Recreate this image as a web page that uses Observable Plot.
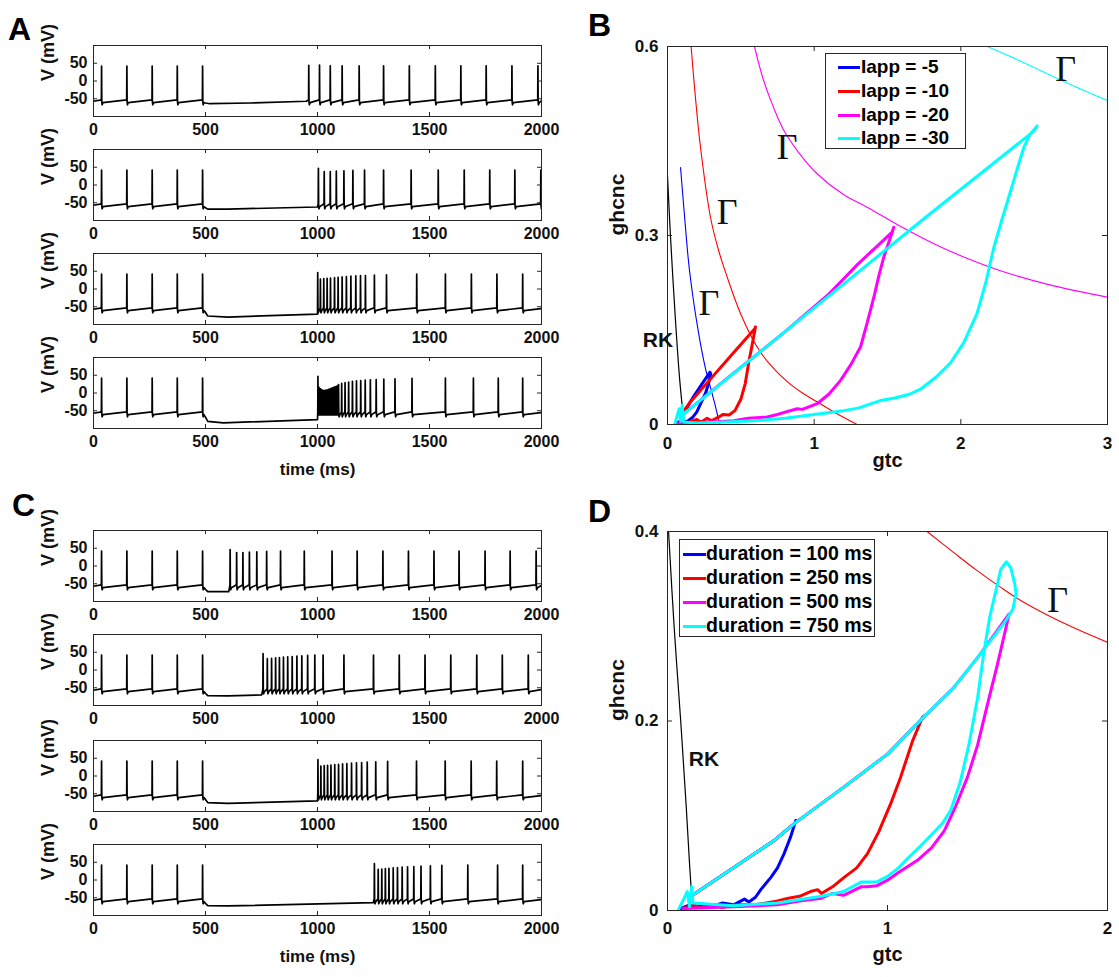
<!DOCTYPE html>
<html><head><meta charset="utf-8">
<script src="https://cdn.jsdelivr.net/npm/d3@7"></script>
<script src="https://cdn.jsdelivr.net/npm/@observablehq/plot@0.6"></script>
<style>
body{margin:0;background:#fff;}
#fig{position:relative;width:1119px;height:977px;font-family:'Liberation Sans',Arial,Helvetica,sans-serif;overflow:hidden;}
.letter{position:absolute;font-weight:bold;font-size:32px;line-height:1;color:#000;}
.legend{position:absolute;border:1px solid #262626;background:#fff;box-sizing:border-box;}
.row{position:absolute;font-weight:bold;line-height:1;color:#000;white-space:nowrap;}
.sw{position:absolute;height:3px;}
</style>
</head><body><div id="fig"></div>
<script>
// ---------------- DATA: voltage traces (time in ms, V in mV) ----------------
const timeTicks = [0, 500, 1000, 1500, 2000];
const vTicks = [-50, 0, 50];

const spikesA1 = [36,149,262,374,487,961,1009,1057,1110,1186,1295,1410,1526,1640,1753,1868,1984];
const peaksA1  = [42,42,42,42,42,44,45,43,43,43,43,43,43,43,43,43,43];
const inhibA1  = [[500,-62],[520,-64],[700,-62],[950,-57]];

const spikesA2 = [36,149,262,374,487,1004,1030,1057,1084,1118,1158,1210,1295,1418,1539,1655,1769,1881,1997];
const peaksA2  = [42,42,42,42,42,47,38,38,39,40,41,42,42,42,42,42,42,42,42];
const inhibA2  = [[500,-64],[510,-68],[600,-68],[1000,-62]];

const spikesA3 = [36,149,262,374,487,1001,1013,1028,1043,1058,1076,1092,1110,1129,1149,1171,1192,1214,1254,1308,1443,1571,1687,1801,1916];
const peaksA3  = [42,42,42,42,42,46,28,29,30,31,32,33,34,35,36,37,38,38,39,40,42,42,42,42,42];
const inhibA3  = [[500,-66],[510,-76],[600,-79],[1000,-71]];

const spikesA4 = [36,149,262,374,487,1002,1006,1010,1014,1018,1022,1026,1030,1034,1038,1042,1046,1050,1054,1058,1062,1066,1070,1074,1078,1082,1086,1090,1094,1108,1123,1139,1156,1174,1193,1213,1236,1262,1296,1346,1422,1571,1696,1807,1916];
const peaksA4  = [42,42,42,42,42,47,16,13,11,9,8,7,7,7,8,8,9,10,11,12,13,14,15,16,17,18,19,20,24,27,29,31,33,34,35,36,37,38,39,40,41,42,42,42,42];
const inhibA4  = [[500,-68],[510,-80],[580,-84],[1000,-75]];

const spikesC1 = [36,149,262,374,487,610,639,667,696,729,773,835,941,1065,1177,1292,1406,1520,1632,1748,1860,1976];
const peaksC1  = [42,42,42,42,42,46,38,38,39,40,41,42,42,42,42,42,42,42,42,42,42,42];
const inhibC1  = [[500,-66],[510,-72],[604,-72]];

const spikesC2 = [36,149,262,374,487,757,776,795,813,830,848,867,887,908,930,956,988,1025,1118,1250,1365,1480,1595,1711,1825,1941];
const peaksC2  = [42,42,42,42,42,46,32,33,34,35,36,37,38,39,40,41,42,42,42,42,42,42,42,42,42,42];
const inhibC2  = [[500,-66],[510,-72],[600,-73],[751,-70]];

const spikesC3 = [36,149,262,374,487,1002,1015,1030,1045,1060,1077,1094,1112,1131,1152,1174,1197,1222,1260,1313,1442,1570,1686,1800,1916];
const peaksC3  = [42,42,42,42,42,46,28,29,30,31,32,33,34,35,36,37,38,39,40,41,42,42,42,42,42];
const inhibC3  = [[500,-66],[510,-75],[600,-77],[1000,-70]];

const spikesC4 = [36,149,262,374,487,1254,1271,1287,1303,1319,1338,1357,1378,1402,1430,1462,1504,1555,1671,1804,1916];
const peaksC4  = [42,42,42,42,42,46,30,31,32,33,34,35,36,37,38,39,40,41,42,42,42];
const inhibC4  = [[500,-66],[510,-72],[600,-73],[1249,-64]];

// ---------------- DATA: phase plane B (gtc, ghcnc) ----------------
const bXTicks = [0, 1, 2, 3];
const bYTicks = [0, 0.3, 0.6];
const bRK = [[0,0.395],[0.02,0.3],[0.0545,0.165],[0.08,0.08],[0.1,0.03],[0.112,0.005]];
const bGammaBlue = [[0.089,0.408],[0.12,0.32],[0.145,0.255],[0.175,0.2],[0.2,0.162],[0.225,0.128],[0.26,0.088],[0.293,0.059],[0.32,0.035],[0.339,0.017],[0.357,0]];
const bGammaRed = [[0.161,0.6],[0.19,0.52],[0.225,0.44],[0.293,0.329],[0.35,0.275],[0.407,0.234],[0.5,0.175],[0.611,0.123],[0.7,0.095],[0.816,0.068],[0.92,0.05],[1.02,0.036],[1.15,0.018],[1.293,0]];
const bGammaMagenta = [[0.593,0.6],[0.65,0.55],[0.72,0.505],[0.793,0.467],[0.9,0.43],[1.02,0.398],[1.2,0.365],[1.361,0.345],[1.6,0.313],[1.816,0.287],[2.05,0.263],[2.27,0.244],[2.6,0.222],[3.0,0.202]];
const bGammaCyan = [[2.18,0.6],[2.3,0.588],[2.497,0.567],[2.725,0.542],[3.0,0.514]];
const bGammaLabels = [[0.816,0.44],[0.407,0.337],[0.282,0.192],[2.714,0.563]];
const bRKLabel = [[-0.065,0.133]];
const bTrajBlue = [[0.07,0.003],[0.1,0.007],[0.13,0.004],[0.17,0.011],[0.2,0.02],[0.23,0.035],[0.26,0.05],[0.28,0.065],[0.295,0.08],[0.29,0.083],[0.24,0.066],[0.18,0.045],[0.12,0.022],[0.1,0.016]];
const bTrajRed = [[0.07,0.002],[0.15,0.004],[0.2,0.008],[0.23,0.004],[0.27,0.01],[0.3,0.006],[0.35,0.012],[0.38,0.016],[0.42,0.015],[0.46,0.022],[0.5,0.04],[0.53,0.065],[0.555,0.1],[0.58,0.13],[0.6,0.155],[0.595,0.152],[0.45,0.114],[0.3,0.074],[0.15,0.034],[0.1,0.018]];
const bTrajMagenta = [[0.07,0.002],[0.2,0.003],[0.3,0.004],[0.452,0.006],[0.55,0.01],[0.68,0.012],[0.75,0.016],[0.884,0.025],[0.92,0.024],[1.02,0.033],[1.1,0.048],[1.18,0.07],[1.25,0.095],[1.316,0.123],[1.36,0.16],[1.407,0.202],[1.44,0.235],[1.475,0.266],[1.51,0.29],[1.543,0.313],[1.53,0.305],[1.3,0.255],[1.1,0.207],[0.8,0.147],[0.4,0.072],[0.1,0.015]];
const bTrajCyan = [[0.05,0.001],[0.08,0.025],[0.09,0.005],[0.1,0.03],[0.11,0.004],[0.2,0.002],[0.4,0.004],[0.6,0.006],[0.8,0.01],[1.0,0.016],[1.2,0.022],[1.3,0.026],[1.4,0.034],[1.452,0.038],[1.55,0.042],[1.65,0.048],[1.725,0.056],[1.83,0.075],[1.93,0.098],[2.02,0.13],[2.11,0.176],[2.17,0.225],[2.225,0.281],[2.28,0.325],[2.34,0.371],[2.39,0.41],[2.43,0.44],[2.47,0.46],[2.51,0.471],[2.52,0.474],[2.5,0.466],[1.75,0.327],[0.9,0.166],[0.1,0.015]];

// ---------------- DATA: phase plane D ----------------
const dXTicks = [0, 1, 2];
const dYTicks = [0, 0.2, 0.4];
const dRK = [[0.005,0.399],[0.03,0.3],[0.06,0.2],[0.085,0.11],[0.1,0.05],[0.109,0.018]];
const dGammaRed = [[1.18,0.4],[1.3,0.378],[1.4,0.36],[1.515,0.341],[1.6,0.328],[1.742,0.31],[1.87,0.296],[2.0,0.283]];
const dGammaLabels = [[1.773,0.327]];
const dRKLabel = [[0.166,0.16]];
const dTrajBlue = [[0.06,0.002],[0.1,0.006],[0.13,0.003],[0.16,0.007],[0.2,0.004],[0.25,0.008],[0.3,0.006],[0.35,0.012],[0.37,0.009],[0.4,0.014],[0.424,0.022],[0.47,0.035],[0.5,0.045],[0.53,0.06],[0.56,0.078],[0.583,0.095],[0.583,0.093],[0.485,0.074],[0.1,0.014]];
const dTrajRed = [[0.07,0.002],[0.12,0.006],[0.15,0.003],[0.2,0.006],[0.25,0.003],[0.3,0.006],[0.4,0.006],[0.5,0.01],[0.55,0.013],[0.6,0.015],[0.65,0.02],[0.682,0.022],[0.7,0.018],[0.75,0.025],[0.803,0.035],[0.86,0.045],[0.909,0.06],[0.96,0.083],[1.015,0.113],[1.06,0.141],[1.114,0.179],[1.159,0.204],[1.17,0.206],[1.16,0.203],[1.0,0.165],[0.8,0.13],[0.583,0.093],[0.485,0.074],[0.1,0.014]];
const dTrajMagenta = [[0.07,0.002],[0.3,0.004],[0.5,0.006],[0.6,0.01],[0.7,0.013],[0.75,0.018],[0.8,0.016],[0.88,0.025],[0.909,0.025],[0.95,0.026],[1.0,0.032],[1.05,0.04],[1.136,0.053],[1.2,0.066],[1.258,0.084],[1.31,0.11],[1.364,0.141],[1.41,0.175],[1.455,0.218],[1.5,0.26],[1.53,0.29],[1.553,0.313],[1.42,0.27],[1.3,0.235],[1.16,0.203],[1.0,0.165],[0.8,0.13],[0.583,0.093],[0.485,0.074],[0.1,0.014]];
const dTrajCyan = [[0.05,0.001],[0.09,0.02],[0.1,0.004],[0.11,0.025],[0.115,0.008],[0.3,0.005],[0.5,0.008],[0.7,0.015],[0.8,0.02],[0.88,0.03],[0.95,0.03],[1.0,0.036],[1.05,0.045],[1.1,0.057],[1.15,0.068],[1.2,0.08],[1.25,0.092],[1.288,0.106],[1.33,0.135],[1.37,0.175],[1.41,0.225],[1.439,0.274],[1.465,0.31],[1.49,0.335],[1.515,0.36],[1.54,0.368],[1.56,0.362],[1.578,0.345],[1.584,0.335],[1.57,0.318],[1.538,0.306],[1.42,0.27],[1.3,0.235],[1.16,0.203],[1.0,0.165],[0.8,0.13],[0.583,0.093],[0.485,0.074],[0.1,0.014]];

// ---------------- DATA: legends ----------------
const legendB = ["Iapp = -5", "Iapp = -10", "Iapp = -20", "Iapp = -30"];
const legendD = ["duration = 100 ms", "duration = 250 ms", "duration = 500 ms", "duration = 750 ms"];
const seriesColors = ["#0000ff", "#ff0000", "#ff00ff", "#00ffff"];

// ---------------- rendering ----------------
const FONT = "'Liberation Sans', Arial, Helvetica, sans-serif";
const AX = "#262626";
const fig = document.getElementById("fig");
function place(el, left, top) {
  el.style.position = "absolute";
  el.style.left = left + "px";
  el.style.top = top + "px";
  el.style.overflow = "visible";
  fig.appendChild(el);
}

// membrane potential path built from spike times/peaks and inhibition key points
function buildWave(spikes, peaks, inhib) {
  const ev = [{t: 0, v: -57}];
  spikes.forEach((t, i) => {
    const next = i + 1 < spikes.length ? spikes[i + 1] - t : 100;
    const prev = i > 0 ? t - spikes[i - 1] : 100;
    const k = Math.min(1, next / 10), kp = Math.min(1, prev / 10);
    ev.push({t: t - 0.8 * kp, v: -53});
    ev.push({t: t, v: peaks[i]});
    ev.push({t: t + 1 * k, v: -58});
    ev.push({t: t + 2.5 * k, v: k < 1 ? -58 - 9 * k : -67});
    ev.push({t: t + 6 * k, v: -61});
  });
  inhib.forEach(([t, v]) => ev.push({t, v}));
  const last = spikes[spikes.length - 1];
  if (last + 8 < 2000) ev.push({t: 2000, v: -55});
  ev.sort((a, b) => a.t - b.t);
  return ev.filter(d => d.t <= 2000);
}

function makeTrace(spikes, peaks, inhib, frameTop, withTime) {
  const W = 448, H = 71, mt = 5, mb = withTime ? 62 : 25;
  const pts = buildWave(spikes, peaks, inhib);
  const svg = Plot.plot({
    width: 93 + W + 19, height: mt + H + mb,
    marginLeft: 93, marginRight: 19, marginTop: mt, marginBottom: mb,
    x: {domain: [0, 2000]}, y: {domain: [-100, 100]},
    style: {fontFamily: FONT, fontSize: "16px", fontWeight: "bold", color: AX, background: "none", overflow: "visible"},
    marks: [
      Plot.line(pts, {x: "t", y: "v", stroke: "black", strokeWidth: 1.7, clip: true}),
      Plot.frame({stroke: AX, strokeWidth: 1}),
      Plot.tickX(timeTicks, {x: d => d, insetTop: H - 4, stroke: AX}),
      Plot.tickX(timeTicks, {x: d => d, insetBottom: H - 4, stroke: AX}),
      Plot.tickY(vTicks, {y: d => d, insetRight: W - 4, stroke: AX}),
      Plot.tickY(vTicks, {y: d => d, insetLeft: W - 4, stroke: AX}),
      Plot.axisX(timeTicks, {tickSize: 0, tickPadding: 7, label: null, tickFormat: d => String(d), fill: "#111"}),
      Plot.axisY(vTicks, {tickSize: 0, tickPadding: 6, label: null, tickFormat: d => String(d), fill: "#111"}),
      Plot.text(["V (mV)"], {text: d => d, frameAnchor: "left", dx: -45, rotate: -90, fontSize: 18, fontWeight: "bold", fill: "#111"}),
      withTime ? Plot.text(["time (ms)"], {text: d => d, frameAnchor: "bottom", dy: 46, fontSize: 17, fontWeight: "bold", fill: "#111"}) : null
    ]
  });
  place(svg, 0, frameTop - mt);
}

makeTrace(spikesA1, peaksA1, inhibA1, 45, false);
makeTrace(spikesA2, peaksA2, inhibA2, 149, false);
makeTrace(spikesA3, peaksA3, inhibA3, 253, false);
makeTrace(spikesA4, peaksA4, inhibA4, 357, true);
makeTrace(spikesC1, peaksC1, inhibC1, 530, false);
makeTrace(spikesC2, peaksC2, inhibC2, 634, false);
makeTrace(spikesC3, peaksC3, inhibC3, 740, false);
makeTrace(spikesC4, peaksC4, inhibC4, 844, true);

function makePhase(o) {
  const W = 440, H = o.H, mt = 36, mb = 60;
  const px = d => d[0], py = d => d[1];
  const marks = [];
  o.gammas.forEach(([data, color]) => marks.push(Plot.line(data, {x: px, y: py, stroke: color, strokeWidth: 1.1, curve: "catmull-rom", clip: true})));
  marks.push(Plot.line(o.rk, {x: px, y: py, stroke: "black", strokeWidth: 1.2, curve: "catmull-rom", clip: true}));
  o.trajs.forEach(([data, color]) => marks.push(Plot.line(data, {x: px, y: py, stroke: color, strokeWidth: 3, strokeLinejoin: "round", clip: true})));
  marks.push(
    Plot.frame({stroke: AX, strokeWidth: 1}),
    Plot.tickX(o.xTicks, {x: d => d, insetTop: H - 5, stroke: AX}),
    Plot.tickX(o.xTicks, {x: d => d, insetBottom: H - 5, stroke: AX}),
    Plot.tickY(o.yTicks, {y: d => d, insetRight: W - 5, stroke: AX}),
    Plot.tickY(o.yTicks, {y: d => d, insetLeft: W - 5, stroke: AX}),
    Plot.axisX(o.xTicks, {tickSize: 0, tickPadding: o.xPad, label: null, tickFormat: d => String(d), fill: "#111"}),
    Plot.axisY(o.yTicks, {tickSize: 0, tickPadding: 9, label: null, tickFormat: d => String(d), fill: "#111"}),
    Plot.text(o.gammaLabels, {x: px, y: py, text: () => "Γ", fontFamily: "'Liberation Serif', 'Times New Roman', serif", fontSize: 36, fontWeight: "normal", fill: "#111"}),
    Plot.text(o.rkLabel, {x: px, y: py, text: () => "RK", fontSize: 21, fontWeight: "bold", fill: "#111"}),
    Plot.text(["gtc"], {text: d => d, frameAnchor: "bottom", dy: o.gtcDy, fontSize: 20, fontWeight: "bold", fill: "#111"}),
    Plot.text(["ghcnc"], {text: d => d, frameAnchor: "left", dx: -50, rotate: -90, fontSize: 21, fontWeight: "bold", fill: "#111"})
  );
  const svg = Plot.plot({
    width: 87 + W + 12, height: mt + H + mb,
    marginLeft: 87, marginRight: 12, marginTop: mt, marginBottom: mb,
    x: {domain: o.xDomain}, y: {domain: o.yDomain},
    style: {fontFamily: FONT, fontSize: "17px", fontWeight: "bold", color: AX, background: "none", overflow: "visible"},
    marks
  });
  place(svg, 580, o.frameTop - mt);
}

makePhase({
  frameTop: 46, H: 378, xDomain: [0, 3], yDomain: [0, 0.6], xTicks: bXTicks, yTicks: bYTicks, xPad: 12, gtcDy: 42,
  gammas: [[bGammaBlue, "#0000ff"], [bGammaRed, "#ff0000"], [bGammaMagenta, "#ff00ff"], [bGammaCyan, "#00ffff"]],
  rk: bRK, gammaLabels: bGammaLabels, rkLabel: bRKLabel,
  trajs: [[bTrajBlue, "#0000ff"], [bTrajRed, "#ff0000"], [bTrajMagenta, "#ff00ff"], [bTrajCyan, "#00ffff"]]
});
makePhase({
  frameTop: 531, H: 379, xDomain: [0, 2], yDomain: [0, 0.4], xTicks: dXTicks, yTicks: dYTicks, xPad: 11, gtcDy: 50,
  gammas: [[dGammaRed, "#ff0000"]],
  rk: dRK, gammaLabels: dGammaLabels, rkLabel: dRKLabel,
  trajs: [[dTrajBlue, "#0000ff"], [dTrajRed, "#ff0000"], [dTrajMagenta, "#ff00ff"], [dTrajCyan, "#00ffff"]]
});

function makeLegend(labels, box, swX, swW, txX, rowY, fs) {
  const div = document.createElement("div");
  div.className = "legend";
  Object.assign(div.style, {left: box[0] + "px", top: box[1] + "px", width: box[2] + "px", height: box[3] + "px"});
  labels.forEach((lab, i) => {
    const sw = document.createElement("div");
    sw.className = "sw";
    Object.assign(sw.style, {left: swX + "px", top: (rowY[i] - 1.5) + "px", width: swW + "px", background: seriesColors[i]});
    div.appendChild(sw);
    const t = document.createElement("div");
    t.className = "row";
    t.textContent = lab;
    Object.assign(t.style, {left: txX + "px", top: (rowY[i] - fs * 0.52) + "px", fontSize: fs + "px"});
    div.appendChild(t);
  });
  fig.appendChild(div);
}
makeLegend(legendB, [825, 53, 141, 96], 12, 22, 35, [13, 37, 61, 84], 19);
makeLegend(legendD, [679, 539, 196, 98], 3, 23, 26, [14, 38, 62, 86], 19.5);

[["A", 8, 13], ["B", 588, 9], ["C", 12, 489], ["D", 588, 495]].forEach(([s, l, t]) => {
  const d = document.createElement("div");
  d.className = "letter";
  d.textContent = s;
  d.style.left = l + "px";
  d.style.top = t + "px";
  fig.appendChild(d);
});
</script>
</body></html>
